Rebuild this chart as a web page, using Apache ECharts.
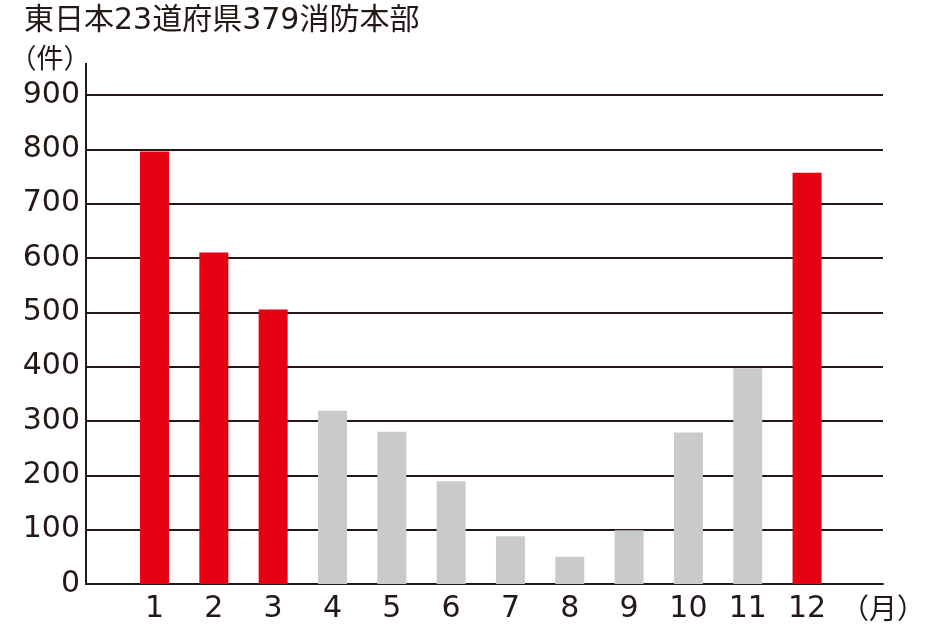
<!DOCTYPE html>
<html>
<head>
<meta charset="utf-8">
<script src="https://cdn.jsdelivr.net/npm/echarts@6/dist/echarts.min.js"></script>
<style>
html,body{margin:0;padding:0;background:#fff;}
#main{width:952px;height:630px;}
</style>
</head>
<body>
<div id="main"></div>
<script>
const titleText = '東日本23道府県379消防本部';
const yUnit = '（件）';
const xUnit = '（月）';
const months = [1,2,3,4,5,6,7,8,9,10,11,12];
const counts = [796, 610, 505, 319, 280, 189, 88, 50, 99, 279, 397, 757];
const winterMonths = [1,2,3,12];
const yTicks = [0,100,200,300,400,500,600,700,800,900];

const RED = '#e50012';
const GRAY = '#c9caca';
const INK = '#231815';
const NUM_FONT = '"DejaVu Sans", "Noto Sans CJK JP", sans-serif';
const CJK_FONT = '"DejaVu Sans", "Noto Sans CJK JP", sans-serif';

const chart = echarts.init(document.getElementById('main'), null, {renderer:'canvas'});
chart.setOption({
  animation: false,
  backgroundColor: '#fff',
  title: {
    text: titleText,
    left: 19, top: 1,
    textStyle: {fontFamily: CJK_FONT, fontSize: 30, fontWeight: 'normal', color: INK}
  },
  grid: {left: 86, right: 69, top: 95, bottom: 46, containLabel: false},
  xAxis: {
    type: 'value',
    min: -0.155, max: 13.28,
    axisLine: {show: true, onZero: false, lineStyle: {color: INK, width: 2}},
    axisTick: {show: false},
    splitLine: {show: false},
    axisLabel: {
      customValues: months,
      formatter: v => String(v),
      fontFamily: NUM_FONT, fontSize: 30, color: INK, margin: 10
    }
  },
  yAxis: {
    type: 'value',
    min: yTicks[0], max: yTicks[yTicks.length-1], interval: 100,
    axisLine: {show: true, onZero: false, lineStyle: {color: INK, width: 2}},
    axisTick: {show: false},
    splitLine: {show: true, lineStyle: {color: INK, width: 2}},
    axisLabel: {fontFamily: NUM_FONT, fontSize: 30, color: INK, margin: 6, padding: [7, 0, 0, 0]}
  },
  graphic: [
    {type: 'line', shape: {x1: 86, y1: 63, x2: 86, y2: 96}, style: {stroke: INK, lineWidth: 2}, z: 10},
    {type: 'text', x: 50, y: 58, style: {text: yUnit, font: '27px "Noto Sans CJK JP"', fill: INK, align: 'center', verticalAlign: 'middle'}},
    {type: 'text', x: 883, y: 608, style: {text: xUnit, font: '28px "Noto Sans CJK JP"', fill: INK, align: 'center', verticalAlign: 'middle'}}
  ],
  series: [{
    type: 'bar',
    barWidth: 29,
    data: months.map((m, i) => ({
      value: [m, counts[i]],
      itemStyle: {color: winterMonths.includes(m) ? RED : GRAY}
    })),
    z: 3
  }]
});
</script>
</body>
</html>
